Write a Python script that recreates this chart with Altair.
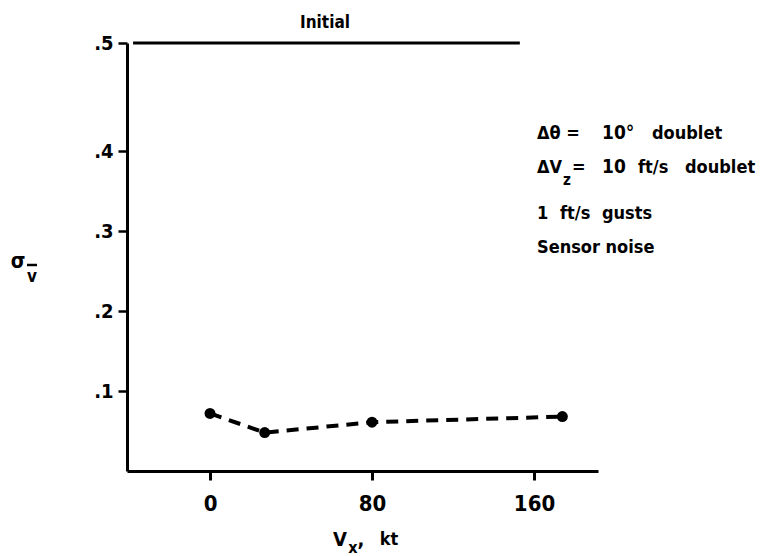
import altair as alt
import pandas as pd

# Data
speed_kt = [0, 27, 80, 174]
sigma_v = [0.072, 0.048, 0.061, 0.068]
initial_x = [-38, 153]
initial_y = [0.5, 0.5]
x_ticks = [0, 80, 160]
y_ticks = [0.1, 0.2, 0.3, 0.4, 0.5]

FONT = "DejaVu Sans Condensed"
WEIGHT = "bold"
L, T = 127, 43          # plot origin in page pixels
W, H = 471, 428


def px(x):
    return x - L


def py(y):
    return y - T


df = pd.DataFrame({"vx": speed_kt, "sig": sigma_v})
dinit = pd.DataFrame({"vx": initial_x, "sig": initial_y})

xscale = alt.Scale(domain=[-41, 191.6], nice=False, zero=False)
yscale = alt.Scale(domain=[0, 0.4, 0.5], range=[H, 108, 0], nice=False, zero=False)

xaxis = alt.Axis(values=x_ticks, title=None, grid=False, domainWidth=3,
                 domainColor="black", tickColor="black", tickWidth=3, tickSize=9,
                 labelFont=FONT, labelFontWeight=WEIGHT, labelFontSize=22, labelColor="black",
                 labelPadding=13, format="d")
yaxis = alt.Axis(values=y_ticks, title=None, grid=False, domainWidth=3,
                 domainColor="black", tickColor="black", tickWidth=2.5, tickSize=9,
                 labelFont=FONT, labelFontWeight=WEIGHT, labelFontSize=20, labelColor="black",
                 labelPadding=5, format=".1f",
                 labelExpr="replace(datum.label, '0.', '.')")

line = alt.Chart(df).mark_line(color="black", strokeWidth=4, strokeDash=[12, 8]).encode(
    x=alt.X("vx:Q", scale=xscale, axis=xaxis),
    y=alt.Y("sig:Q", scale=yscale, axis=yaxis),
)
pts = alt.Chart(df).mark_point(filled=True, color="black", size=120, opacity=1).encode(
    x=alt.X("vx:Q", scale=xscale),
    y=alt.Y("sig:Q", scale=yscale),
)
init = alt.Chart(dinit).mark_line(color="black", strokeWidth=3).encode(
    x=alt.X("vx:Q", scale=xscale),
    y=alt.Y("sig:Q", scale=yscale),
)


def txt(s, x, y, size=18, align="left"):
    return alt.Chart(pd.DataFrame({"t": [s]})).mark_text(
        font=FONT, fontWeight=WEIGHT, fontSize=size, align=align,
        baseline="alphabetic", color="black"
    ).encode(x=alt.value(px(x)), y=alt.value(py(y)), text="t:N")


# bar over the subscript v of sigma
vbar = alt.Chart(pd.DataFrame({"a": [0]})).mark_rule(color="black", strokeWidth=2.5).encode(
    x=alt.value(px(27)), x2=alt.value(px(37)), y=alt.value(py(265))
)

texts = [
    txt("Initial", 325, 28, 17, "center"),
    # annotation block
    txt("Δθ =", 537, 139, 18),
    txt("10°", 602, 139, 19),
    txt("doublet", 652, 139, 18),
    txt("ΔV", 537, 173, 18),
    txt("z", 563, 185, 15),
    txt("=", 572, 173, 18),
    txt("10", 602, 173, 19),
    txt("ft/s", 638, 173, 18),
    txt("doublet", 685, 173, 18),
    txt("1", 537, 219, 18),
    txt("ft/s", 560, 219, 18),
    txt("gusts", 602, 219, 18),
    txt("Sensor noise", 537, 253, 18),
    # y title  sigma_vbar
    txt("σ", 18, 268, 21, "center"),
    txt("v", 32, 282, 17, "center"),
    # x title V_x, kt
    txt("V", 340, 546, 20, "center"),
    txt("x", 353, 553, 16, "center"),
    txt(",", 361, 546, 20, "center"),
    txt("kt", 389, 545, 18, "center"),
]

chart = alt.layer(init, line, pts, vbar, *texts).properties(
    width=W, height=H,
    autosize=alt.AutoSizeParams(type="none"),
    padding={"left": L, "top": T, "right": 760 - L - W, "bottom": 556 - T - H},
).configure(background="white").configure_view(stroke=None)

chart.save("out.html", embed_options={"renderer": "svg", "actions": False})
